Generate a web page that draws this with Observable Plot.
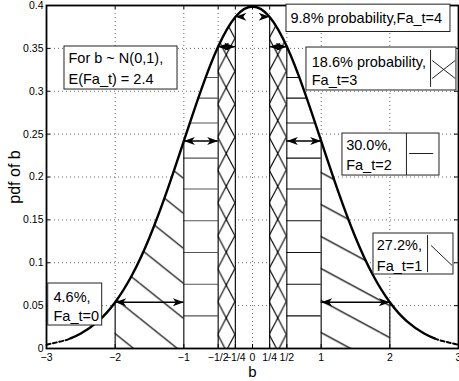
<!DOCTYPE html>
<html><head><meta charset="utf-8">
<script src="https://cdn.jsdelivr.net/npm/d3@7"></script>
<script src="https://cdn.jsdelivr.net/npm/@observablehq/plot@0.6"></script>
<style>
html,body{margin:0;padding:0;background:#fff;}
#chart svg{display:block;}
</style></head><body><div id="chart"></div>
<script>
// ---------- data ----------
const curveX = [-3,-2.75,-2.65,-2.5,-2.25,-2,-1.75,-1.5,-1.25,-1,-0.75,-0.5,-0.25,0,0.25,0.5,0.75,1,1.25,1.5,1.75,2,2.25,2.5,2.65,2.75,3];
const curvePdf = [0.0044,0.0091,0.0119,0.0175,0.0317,0.0540,0.0863,0.1295,0.1826,0.2420,0.3011,0.3521,0.3867,0.3989,0.3867,0.3521,0.3011,0.2420,0.1826,0.1295,0.0863,0.0540,0.0317,0.0175,0.0119,0.0091,0.0044];
const dashedBeyond = 2.65;
const xTicks = [-3,-2,-1,-0.5,-0.25,0,0.25,0.5,1,2,3];
const xTickLabels = ["\u22123","\u22122","\u22121","\u22121/2","\u22121/4","0","1/4","1/2","1","2","3"];
const yTicks = [0,0.05,0.1,0.15,0.2,0.25,0.3,0.35,0.4];
const yTickLabels = ["0","0.05","0.1","0.15","0.2","0.25","0.3","0.35","0.4"];
const regionEdges = [0.25,0.5,1,2];
const hatchLevels = [0.038,0.075,0.112,0.149,0.186,0.222,0.263,0.292,0.316];
const arrowLevels = [0.054,0.242,0.352,0.387];
const arrowInner = [1,0.5,0.25,0];
const arrowOuter = [2,1,0.5,0.25];
const faLabels = ["Fa_t=0","Fa_t=1","Fa_t=2","Fa_t=3","Fa_t=4"];
const probLabels = ["4.6%,","27.2%,","30.0%,","18.6% probability,","9.8% probability,"];
const summaryLines = ["For b ~ N(0,1),","E(Fa_t) = 2.4"];
const xAxisLabel = "b";
const yAxisLabel = "pdf of b";

// ---------- annotation layout (data units) ----------
const boxes = [
  {x1:-2.738,x2:-1.092,y1:0.302,y2:0.3522},
  {x1:-2.975,x2:-2.189,y1:0.0268,y2:0.0758},
  {x1:1.762,x2:2.927,y1:0.0863,y2:0.1341},
  {x1:1.31,x2:2.723,y1:0.2017,y2:0.2507},
  {x1:0.786,x2:2.97,y1:0.3009,y2:0.351},
  {x1:0.495,x2:2.883,y1:0.3691,y2:0.401}
];
const separators = [
  {x:2.549,y1:0.0885,y2:0.1318},
  {x:2.242,y1:0.2017,y2:0.2507},
  {x:2.593,y1:0.3045,y2:0.3475}
];
const samples = [
  {x1:2.601,y1:0.1201,x2:2.907,y2:0.0968},
  {x1:2.282,y1:0.2274,x2:2.632,y2:0.2274},
  {x1:2.617,y1:0.3359,x2:2.952,y2:0.3149},
  {x1:2.952,y1:0.3359,x2:2.617,y2:0.3149}
];
const textLines = [
  {t:summaryLines[0],x:-2.68,y:0.3382},
  {t:summaryLines[1],x:-2.68,y:0.3137},
  {t:probLabels[0],x:-2.898,y:0.0598},{t:faLabels[0],x:-2.898,y:0.0373},
  {t:probLabels[1],x:1.81,y:0.1201},{t:faLabels[1],x:1.81,y:0.0956},
  {t:probLabels[2],x:1.364,y:0.2367},{t:faLabels[2],x:1.364,y:0.2134},
  {t:probLabels[3],x:0.863,y:0.3339},{t:faLabels[3],x:0.863,y:0.3125},
  {t:probLabels[4]+faLabels[4],x:0.553,y:0.3845}
];

// ---------- derived tables ----------
const curve = curveX.map((x,i)=>({x, y:curvePdf[i]}));
const solid = curve.filter(d=>Math.abs(d.x)<=dashedBeyond);
const tails = curve.filter(d=>Math.abs(d.x)>=dashedBeyond).map(d=>({...d, side: d.x<0?"L":"R"}));
const edges = [...regionEdges.map(e=>-e), ...regionEdges];
const regions = [];
for (let i=0;i<regionEdges.length-1;i++) {
  for (const s of [-1,1]) {
    const a = s*regionEdges[i], b = s*regionEdges[i+1];
    regions.push({x1:Math.min(a,b), x2:Math.max(a,b), k:i, s});
  }
}
const arrows = [];
arrowLevels.forEach((y,i)=>{
  for (const s of [-1,1]) {
    const a = s*arrowInner[i], b = s*arrowOuter[i];
    arrows.push({y, lo:Math.min(a,b), hi:Math.max(a,b), shaft: i<3, top: i===3, s});
  }
});
const headsL = arrows.filter(a=>!a.top || a.s<0).map(a=>({x:a.lo,y:a.y}));
const headsR = arrows.filter(a=>!a.top || a.s>0).map(a=>({x:a.hi,y:a.y}));
const hatchRows = [];
for (const h of hatchLevels) { hatchRows.push({y:h,x1:-1,x2:-0.5,c:"#555"}); hatchRows.push({y:h,x1:0.5,x2:1,c:"#111"}); }
const xLabelMap = new Map(xTicks.map((t,i)=>[t,xTickLabels[i]]));
const yLabelMap = new Map(yTicks.map((t,i)=>[t,yTickLabels[i]]));

const headRight = {draw(ctx){ctx.moveTo(0,0);ctx.lineTo(-11,-4);ctx.lineTo(-8,0);ctx.lineTo(-11,4);ctx.closePath();}};
const headLeft = {draw(ctx){ctx.moveTo(0,0);ctx.lineTo(11,-4);ctx.lineTo(8,0);ctx.lineTo(11,4);ctx.closePath();}};

const font = "'Liberation Sans', Arial, Helvetica, sans-serif";
const tickLenY = 0.4*4/343, tickLenX = 6*4/412;

const chart = Plot.plot({
  width: 459, height: 381,
  marginLeft: 46, marginRight: 1, marginTop: 5, marginBottom: 33,
  style: {fontFamily: font, fontSize: "10.5px", background: "white", color: "black"},
  x: {domain:[-3,3], ticks:xTicks, tickFormat:d=>xLabelMap.get(d), tickSize:0, tickPadding:5, label:null},
  y: {domain:[0,0.4], ticks:yTicks, tickFormat:d=>yLabelMap.get(d), tickSize:0, tickPadding:3, label:null},
  marks: [
    Plot.ruleX(xTicks, {stroke:"#444", strokeWidth:0.8, strokeDasharray:"1,3"}),
    Plot.ruleY(yTicks, {stroke:"#444", strokeWidth:0.8, strokeDasharray:"1,3"}),
    Plot.areaY(curve, {x:"x", y:"y", curve:"natural", fill:"none", ariaDescription:"undercurve"}),
    Plot.rect(regions, {x1:"x1", x2:"x2", y1:0, y2:0.4, fill:"white", ariaDescription:"clip"}),
    Plot.rect(regions.filter(r=>r.k===2 && r.s<0), {x1:"x1", x2:"x2", y1:0, y2:0.4, fill:"url(#patL)", ariaDescription:"clip"}),
    Plot.rect(regions.filter(r=>r.k===2 && r.s>0), {x1:"x1", x2:"x2", y1:0, y2:0.4, fill:"url(#patR)", ariaDescription:"clip"}),
    Plot.rect(regions.filter(r=>r.k===0), {x1:"x1", x2:"x2", y1:0, y2:0.4, fill:"url(#patX)", ariaDescription:"clip"}),
    Plot.ruleY(hatchRows, {y:"y", x1:"x1", x2:"x2", stroke:"c", strokeWidth:1.1, ariaDescription:"clip"}),
    Plot.ruleX(edges, {y1:0, y2:0.4, stroke:"#000", strokeWidth:1.1, ariaDescription:"clip"}),
    Plot.line(solid, {x:"x", y:"y", curve:"natural", stroke:"black", strokeWidth:2.4}),
    Plot.line(tails, {x:"x", y:"y", z:"side", curve:"natural", stroke:"black", strokeWidth:2, strokeDasharray:"4,2.5"}),
    Plot.ruleY(arrows.filter(a=>a.shaft), {y:"y", x1:d=>d.lo, x2:d=>d.hi, stroke:"black", strokeWidth:1.5}),
    Plot.dot(headsL, {x:"x", y:"y", symbol:headLeft, r:5, fill:"black", stroke:"none"}),
    Plot.dot(headsR, {x:"x", y:"y", symbol:headRight, r:5, fill:"black", stroke:"none"}),
    Plot.ruleX(xTicks, {y1:0, y2:tickLenY, stroke:"black", strokeWidth:1}),
    Plot.ruleX(xTicks, {y1:0.4-tickLenY, y2:0.4, stroke:"black", strokeWidth:1}),
    Plot.ruleY(yTicks, {x1:-3, x2:-3+tickLenX, stroke:"black", strokeWidth:1}),
    Plot.ruleY(yTicks, {x1:3-tickLenX, x2:3, stroke:"black", strokeWidth:1}),
    Plot.frame({stroke:"black", strokeWidth:1.8}),
    Plot.rect(boxes, {x1:"x1", x2:"x2", y1:"y1", y2:"y2", fill:"white", stroke:"#222", strokeWidth:1}),
    Plot.ruleX(separators, {x:"x", y1:"y1", y2:"y2", stroke:"#222", strokeWidth:1}),
    Plot.link(samples, {x1:"x1", y1:"y1", x2:"x2", y2:"y2", stroke:"#222", strokeWidth:1}),
    Plot.text(textLines, {x:"x", y:"y", text:"t", textAnchor:"start", fontSize:14.5, fill:"black"}),
    Plot.text([yAxisLabel], {text:d=>d, x:-3, y:0.2, dx:-32, rotate:-90, fontSize:16, fill:"black"}),
    Plot.text([xAxisLabel], {text:d=>d, x:0, y:0, dy:24, fontSize:15, fill:"black"})
  ]
});

// ---------- hatch patterns & clipping ----------
const ns = "http://www.w3.org/2000/svg";
const sx = chart.scale("x"), sy = chart.scale("y");
const X = v => sx.apply(v), Y = v => sy.apply(v);
const defs = document.createElementNS(ns, "defs");
chart.insertBefore(defs, chart.firstChild);
function mkPattern(id, ox, oy, w, h, segs, stroke, sw) {
  const p = document.createElementNS(ns, "pattern");
  p.setAttribute("id", id);
  p.setAttribute("patternUnits", "userSpaceOnUse");
  p.setAttribute("x", ox); p.setAttribute("y", oy);
  p.setAttribute("width", w); p.setAttribute("height", h);
  for (const [a,b,c,d] of segs) {
    const l = document.createElementNS(ns, "line");
    l.setAttribute("x1", a); l.setAttribute("y1", b); l.setAttribute("x2", c); l.setAttribute("y2", d);
    l.setAttribute("stroke", stroke); l.setAttribute("stroke-width", sw);
    p.appendChild(l);
  }
  defs.appendChild(p);
}
function diagSegs(w,h){ return [-1,0,1].map(k=>[0,k*h,w,k*h+h]); }
{ const h=35, w=h/0.8; mkPattern("patL", X(-1), Y(0.0755), w, h, diagSegs(w,h), "#000", 1.2); }
{ const h=32, w=h/0.54; mkPattern("patR", X(1), Y(0.0929), w, h, diagSegs(w,h), "#000", 1.2); }
{ const w=X(-0.25)-X(-0.5), h=32.9;
  const segs=[];
  for (const k of [-1,0,1]) { segs.push([0,k*h,w,k*h+h]); segs.push([w,k*h,0,k*h+h]); }
  mkPattern("patX", X(-0.5), Y(0.035)-h/2, w, h, segs, "#000", 1.1); }

const src = chart.querySelector('g[aria-description="undercurve"] path');
if (src) {
  const cp = document.createElementNS(ns, "clipPath");
  cp.setAttribute("id", "undercurve");
  const p = document.createElementNS(ns, "path");
  p.setAttribute("d", src.getAttribute("d"));
  const t = src.parentNode.getAttribute("transform");
  if (t) p.setAttribute("transform", t);
  cp.appendChild(p);
  defs.appendChild(cp);
  chart.querySelectorAll('g[aria-description="clip"]').forEach(g=>g.setAttribute("clip-path","url(#undercurve)"));
}
document.getElementById("chart").appendChild(chart);
</script>
</body></html>
